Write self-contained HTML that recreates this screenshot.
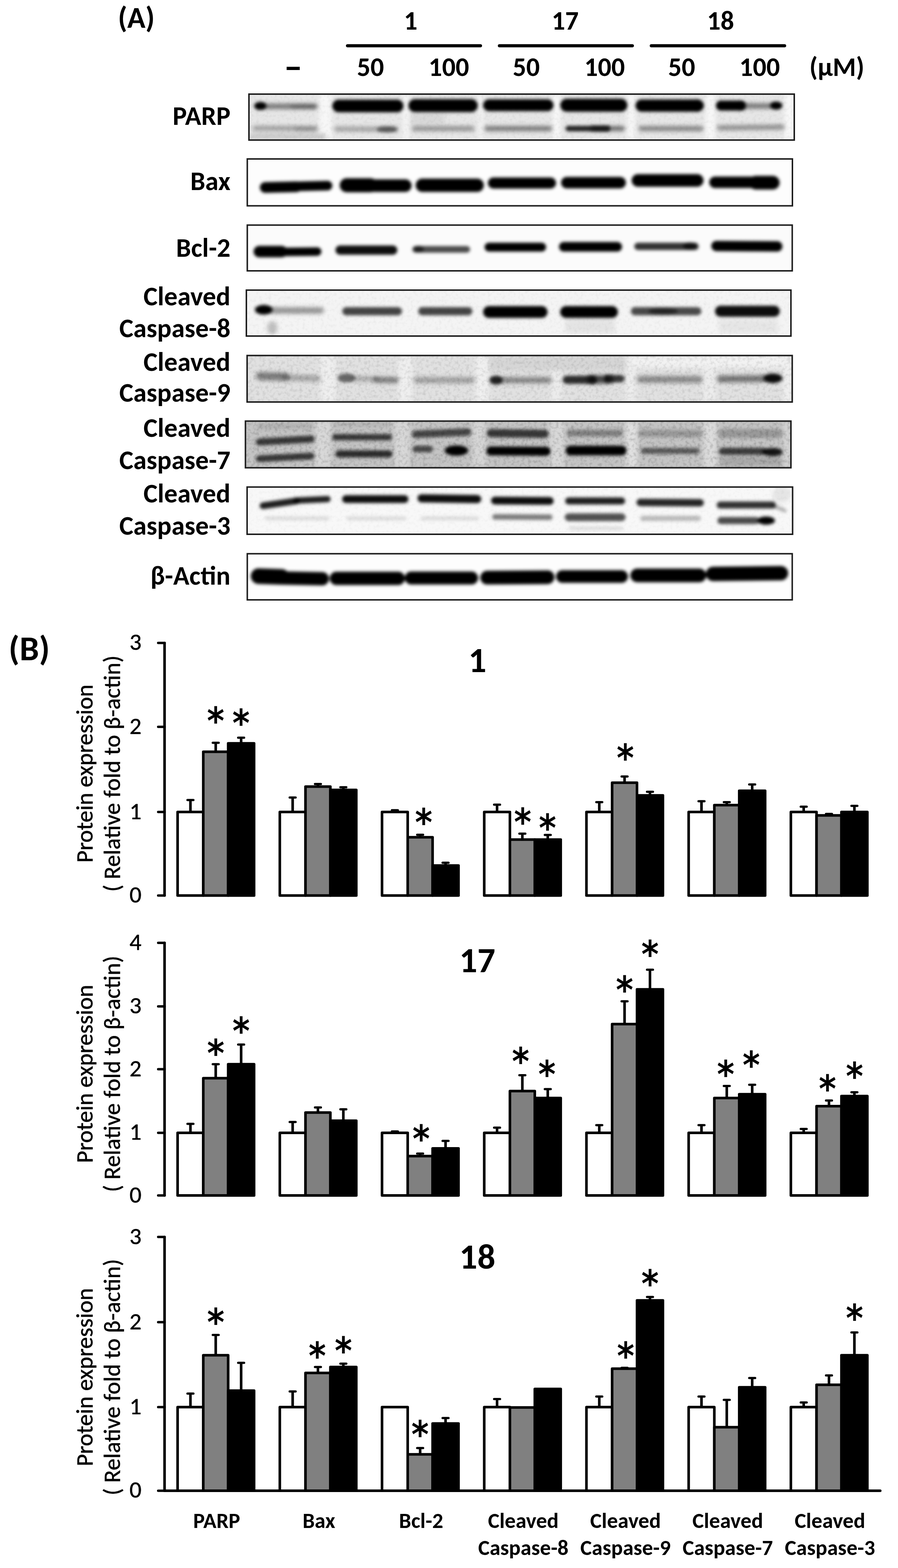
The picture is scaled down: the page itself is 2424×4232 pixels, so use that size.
<!DOCTYPE html><html><head><meta charset="utf-8"><title>Figure</title><style>
html,body{margin:0;padding:0;background:#fff;}body{width:2424px;height:4232px;overflow:hidden;}
svg{display:block;font-family:Carlito, 'Liberation Sans', sans-serif;}
</style></head><body>
<svg width="2424" height="4232" viewBox="0 0 2424 4232">
<rect width="100%" height="100%" fill="#fff"/>
<text textLength="99.6" lengthAdjust="spacingAndGlyphs" x="368" y="75" font-size="81" font-weight="bold" text-anchor="middle" >(A)</text>
<text textLength="36.5" lengthAdjust="spacingAndGlyphs" x="1108.5" y="80" font-size="72" font-weight="bold" text-anchor="middle" >1</text>
<text textLength="73.0" lengthAdjust="spacingAndGlyphs" x="1525.4" y="80" font-size="72" font-weight="bold" text-anchor="middle" >17</text>
<text textLength="73.0" lengthAdjust="spacingAndGlyphs" x="1945" y="80" font-size="72" font-weight="bold" text-anchor="middle" >18</text>
<line x1="938" y1="123.6" x2="1297" y2="123.6" stroke="#000" stroke-width="8.5" stroke-linecap="round"/>
<line x1="1348" y1="123.6" x2="1707" y2="123.6" stroke="#000" stroke-width="8.5" stroke-linecap="round"/>
<line x1="1758" y1="123.6" x2="2118" y2="123.6" stroke="#000" stroke-width="8.5" stroke-linecap="round"/>
<text textLength="49.8" lengthAdjust="spacingAndGlyphs" x="791.5" y="213" font-size="100" font-weight="bold" text-anchor="middle" >–</text>
<text textLength="73.0" lengthAdjust="spacingAndGlyphs" x="1000" y="205" font-size="72" font-weight="bold" text-anchor="middle" >50</text>
<text textLength="109.5" lengthAdjust="spacingAndGlyphs" x="1211.5" y="205" font-size="72" font-weight="bold" text-anchor="middle" >100</text>
<text textLength="73.0" lengthAdjust="spacingAndGlyphs" x="1420.5" y="205" font-size="72" font-weight="bold" text-anchor="middle" >50</text>
<text textLength="109.5" lengthAdjust="spacingAndGlyphs" x="1632" y="205" font-size="72" font-weight="bold" text-anchor="middle" >100</text>
<text textLength="73.0" lengthAdjust="spacingAndGlyphs" x="1840" y="205" font-size="72" font-weight="bold" text-anchor="middle" >50</text>
<text textLength="109.5" lengthAdjust="spacingAndGlyphs" x="2050.5" y="205" font-size="72" font-weight="bold" text-anchor="middle" >100</text>
<text textLength="148.4" lengthAdjust="spacingAndGlyphs" x="2259" y="205" font-size="72" font-weight="bold" text-anchor="middle" >(μM)</text>
<text textLength="155.9" lengthAdjust="spacingAndGlyphs" x="622" y="337" font-size="72" font-weight="bold" text-anchor="end" >PARP</text>
<text textLength="108.3" lengthAdjust="spacingAndGlyphs" x="622" y="513" font-size="72" font-weight="bold" text-anchor="end" >Bax</text>
<text textLength="146.7" lengthAdjust="spacingAndGlyphs" x="622" y="693" font-size="72" font-weight="bold" text-anchor="end" >Bcl-2</text>
<text textLength="234.8" lengthAdjust="spacingAndGlyphs" x="622" y="824" font-size="72" font-weight="bold" text-anchor="end" >Cleaved</text>
<text textLength="300.1" lengthAdjust="spacingAndGlyphs" x="622" y="909.6" font-size="72" font-weight="bold" text-anchor="end" >Caspase-8</text>
<text textLength="234.8" lengthAdjust="spacingAndGlyphs" x="622" y="1001" font-size="72" font-weight="bold" text-anchor="end" >Cleaved</text>
<text textLength="300.1" lengthAdjust="spacingAndGlyphs" x="622" y="1084" font-size="72" font-weight="bold" text-anchor="end" >Caspase-9</text>
<text textLength="234.8" lengthAdjust="spacingAndGlyphs" x="622" y="1178.7" font-size="72" font-weight="bold" text-anchor="end" >Cleaved</text>
<text textLength="300.1" lengthAdjust="spacingAndGlyphs" x="622" y="1265.5" font-size="72" font-weight="bold" text-anchor="end" >Caspase-7</text>
<text textLength="234.8" lengthAdjust="spacingAndGlyphs" x="622" y="1356" font-size="72" font-weight="bold" text-anchor="end" >Cleaved</text>
<text textLength="300.1" lengthAdjust="spacingAndGlyphs" x="622" y="1443" font-size="72" font-weight="bold" text-anchor="end" >Caspase-3</text>
<text textLength="215.9" lengthAdjust="spacingAndGlyphs" x="622" y="1578" font-size="72" font-weight="bold" text-anchor="end" >β-Actin</text>
<defs>
<filter id="bl" filterUnits="userSpaceOnUse" x="600" y="200" width="1600" height="1480"><feGaussianBlur stdDeviation="4.2"/></filter>
<filter id="bl3" filterUnits="userSpaceOnUse" x="600" y="200" width="1600" height="1480"><feGaussianBlur stdDeviation="6"/></filter>
<filter id="bl2" filterUnits="userSpaceOnUse" x="600" y="200" width="1600" height="1480"><feGaussianBlur stdDeviation="6"/></filter>
<filter id="nz" filterUnits="userSpaceOnUse" x="600" y="200" width="1600" height="1480"><feTurbulence type="fractalNoise" baseFrequency="0.12" numOctaves="2" seed="7"/><feColorMatrix type="matrix" values="0 0 0 0 0  0 0 0 0 0  0 0 0 0 0  0 0 0 -1.6 0.9"/><feComponentTransfer><feFuncA type="linear" slope="1" intercept="0"/></feComponentTransfer></filter>
<clipPath id="cpPARP"><rect x="672" y="254" width="1472" height="124"/></clipPath>
<clipPath id="cpBax"><rect x="667.5" y="429" width="1471.5" height="126.5"/></clipPath>
<clipPath id="cpBcl2"><rect x="667.5" y="607.5" width="1471.0" height="123.5"/></clipPath>
<clipPath id="cpC8"><rect x="665" y="783" width="1470" height="124"/></clipPath>
<clipPath id="cpC9"><rect x="667" y="959.5" width="1471.5" height="125.5"/></clipPath>
<clipPath id="cpC7"><rect x="662.5" y="1136.5" width="1472.5" height="126.0"/></clipPath>
<clipPath id="cpC3"><rect x="667" y="1314.5" width="1472.5" height="127.5"/></clipPath>
<clipPath id="cpAct"><rect x="667.5" y="1494.5" width="1471.0" height="124.5"/></clipPath>
</defs>
<g clip-path="url(#cpPARP)">
<rect x="670" y="252" width="1476" height="128" fill="#ececec"/>
<g filter="url(#bl2)">
<rect x="674" y="256" width="1468" height="120" fill="#e6e6e6"/>
<rect x="862" y="256" width="33" height="120" fill="#f7f7f7"/>
<rect x="1088" y="256" width="15" height="120" fill="#f5f5f5"/>
<rect x="1292" y="256" width="12" height="120" fill="#f3f3f3"/>
<rect x="1493" y="256" width="19" height="120" fill="#f8f8f8"/>
<rect x="1693" y="256" width="21" height="120" fill="#f6f6f6"/>
<rect x="1905" y="256" width="25" height="120" fill="#f8f8f8"/>
<rect x="2118" y="256" width="24" height="120" fill="#f8f8f8"/>
<rect x="674" y="360" width="206" height="16" fill="#c8c8c8"/>
<rect x="1110" y="305" width="90" height="30" fill="#d8d8d8"/>
</g>
<rect x="670" y="252" width="1476" height="128" fill="#000" filter="url(#nz)" opacity="0.06"/>
<g filter="url(#bl3)">
<line x1="720" y1="287" x2="850" y2="287" stroke="#000" stroke-width="14" stroke-linecap="round" stroke-opacity="0.5"/>
<line x1="790" y1="288" x2="850" y2="288" stroke="#000" stroke-width="12" stroke-linecap="round" stroke-opacity="0.25"/>
<line x1="688" y1="346" x2="852" y2="347" stroke="#000" stroke-width="13" stroke-linecap="round" stroke-opacity="0.32"/>
<line x1="800" y1="348" x2="850" y2="348" stroke="#000" stroke-width="10" stroke-linecap="round" stroke-opacity="0.2"/>
<line x1="908" y1="348" x2="1068" y2="349" stroke="#000" stroke-width="13" stroke-linecap="round" stroke-opacity="0.3"/>
<line x1="1118" y1="347" x2="1274" y2="347" stroke="#000" stroke-width="13" stroke-linecap="round" stroke-opacity="0.38"/>
<line x1="1314" y1="347" x2="1484" y2="347" stroke="#000" stroke-width="13" stroke-linecap="round" stroke-opacity="0.5"/>
<line x1="1600" y1="347" x2="1680" y2="347" stroke="#000" stroke-width="13" stroke-linecap="round" stroke-opacity="0.55"/>
<line x1="1730" y1="347" x2="1892" y2="347" stroke="#000" stroke-width="13" stroke-linecap="round" stroke-opacity="0.45"/>
<line x1="2000" y1="286" x2="2078" y2="286" stroke="#000" stroke-width="14" stroke-linecap="round" stroke-opacity="0.5"/>
<line x1="1942" y1="345" x2="2112" y2="343" stroke="#000" stroke-width="13" stroke-linecap="round" stroke-opacity="0.4"/>
</g>
<g filter="url(#bl)">
<ellipse cx="703" cy="286" rx="17" ry="11" fill="#000" fill-opacity="1.0"/>
<line x1="914" y1="286" x2="1072" y2="286" stroke="#000" stroke-width="34" stroke-linecap="round" stroke-opacity="1.0"/>
<ellipse cx="1045" cy="349" rx="28" ry="8" fill="#000" fill-opacity="0.5"/>
<line x1="1120" y1="285" x2="1272" y2="285" stroke="#000" stroke-width="35" stroke-linecap="round" stroke-opacity="1.0"/>
<line x1="1320" y1="284" x2="1478" y2="284" stroke="#000" stroke-width="32" stroke-linecap="round" stroke-opacity="1.0"/>
<line x1="1530" y1="284" x2="1676" y2="284" stroke="#000" stroke-width="35" stroke-linecap="round" stroke-opacity="1.0"/>
<line x1="1534" y1="347" x2="1640" y2="347" stroke="#000" stroke-width="15" stroke-linecap="round" stroke-opacity="0.85"/>
<line x1="1732" y1="285" x2="1870" y2="285" stroke="#000" stroke-width="33" stroke-linecap="round" stroke-opacity="1.0"/>
<ellipse cx="1880" cy="285" rx="20" ry="17" fill="#000" fill-opacity="1.0"/>
<line x1="1946" y1="285" x2="2000" y2="285" stroke="#000" stroke-width="27" stroke-linecap="round" stroke-opacity="1.0"/>
<ellipse cx="2095" cy="285" rx="17" ry="11" fill="#000" fill-opacity="1.0"/>
</g>
</g>
<rect x="672" y="254" width="1472" height="124" fill="none" stroke="#1c1c1c" stroke-width="4"/>
<g clip-path="url(#cpBax)">
<rect x="665.5" y="427" width="1475.5" height="130.5" fill="#fdfdfd"/>
<g filter="url(#bl)">
<line x1="716" y1="506" x2="800" y2="504" stroke="#000" stroke-width="29" stroke-linecap="round" stroke-opacity="1.0"/>
<line x1="800" y1="503" x2="884" y2="501" stroke="#000" stroke-width="26" stroke-linecap="round" stroke-opacity="1.0"/>
<line x1="936" y1="500" x2="1000" y2="500" stroke="#000" stroke-width="38" stroke-linecap="round" stroke-opacity="1.0"/>
<line x1="1000" y1="501" x2="1094" y2="501" stroke="#000" stroke-width="34" stroke-linecap="round" stroke-opacity="1.0"/>
<line x1="1140" y1="500" x2="1288" y2="500" stroke="#000" stroke-width="36" stroke-linecap="round" stroke-opacity="1.0"/>
<line x1="1332" y1="494" x2="1486" y2="494" stroke="#000" stroke-width="30" stroke-linecap="round" stroke-opacity="1.0"/>
<line x1="1530" y1="493" x2="1674" y2="493" stroke="#000" stroke-width="31" stroke-linecap="round" stroke-opacity="1.0"/>
<line x1="1722" y1="487" x2="1882" y2="487" stroke="#000" stroke-width="34" stroke-linecap="round" stroke-opacity="1.0"/>
<line x1="1930" y1="492" x2="2040" y2="492" stroke="#000" stroke-width="31" stroke-linecap="round" stroke-opacity="1.0"/>
<line x1="2040" y1="493" x2="2086" y2="493" stroke="#000" stroke-width="37" stroke-linecap="round" stroke-opacity="1.0"/>
</g>
</g>
<rect x="667.5" y="429" width="1471.5" height="126.5" fill="none" stroke="#1c1c1c" stroke-width="4"/>
<g clip-path="url(#cpBcl2)">
<rect x="665.5" y="605.5" width="1475.0" height="127.5" fill="#fbfbfb"/>
<g filter="url(#bl)">
<line x1="700" y1="679" x2="760" y2="679" stroke="#000" stroke-width="31" stroke-linecap="round" stroke-opacity="1.0"/>
<line x1="760" y1="680" x2="856" y2="679" stroke="#000" stroke-width="23" stroke-linecap="round" stroke-opacity="1.0"/>
<line x1="918" y1="675" x2="1060" y2="675" stroke="#000" stroke-width="25" stroke-linecap="round" stroke-opacity="0.95"/>
<line x1="1122" y1="673" x2="1260" y2="673" stroke="#000" stroke-width="18" stroke-linecap="round" stroke-opacity="0.7"/>
<ellipse cx="1130" cy="672" rx="14" ry="9" fill="#000" fill-opacity="0.6"/>
<line x1="1320" y1="667" x2="1462" y2="667" stroke="#000" stroke-width="24" stroke-linecap="round" stroke-opacity="1.0"/>
<line x1="1522" y1="666" x2="1666" y2="666" stroke="#000" stroke-width="26" stroke-linecap="round" stroke-opacity="1.0"/>
<line x1="1722" y1="665" x2="1876" y2="665" stroke="#000" stroke-width="20" stroke-linecap="round" stroke-opacity="0.8"/>
<ellipse cx="1862" cy="664" rx="18" ry="10" fill="#000" fill-opacity="0.7"/>
<line x1="1934" y1="664" x2="2098" y2="665" stroke="#000" stroke-width="28" stroke-linecap="round" stroke-opacity="1.0"/>
</g>
</g>
<rect x="667.5" y="607.5" width="1471.0" height="123.5" fill="none" stroke="#1c1c1c" stroke-width="4"/>
<g clip-path="url(#cpC8)">
<rect x="663" y="781" width="1474" height="128" fill="#f4f4f4"/>
<g filter="url(#bl2)">
<rect x="1525" y="862" width="135" height="38" fill="#e4e4e4"/>
<rect x="1940" y="862" width="160" height="38" fill="#e6e6e6"/>
</g>
<rect x="663" y="781" width="1474" height="128" fill="#000" filter="url(#nz)" opacity="0.05"/>
<g filter="url(#bl3)">
<line x1="735" y1="838" x2="866" y2="838" stroke="#000" stroke-width="17" stroke-linecap="round" stroke-opacity="0.4"/>
<ellipse cx="735" cy="885" rx="14" ry="18" fill="#000" fill-opacity="0.22"/>
</g>
<g filter="url(#bl)">
<ellipse cx="712" cy="836" rx="24" ry="13" fill="#000" fill-opacity="1.0"/>
<line x1="935" y1="840" x2="1074" y2="840" stroke="#000" stroke-width="22" stroke-linecap="round" stroke-opacity="0.72"/>
<line x1="1140" y1="840" x2="1264" y2="840" stroke="#000" stroke-width="22" stroke-linecap="round" stroke-opacity="0.72"/>
<line x1="1320" y1="842" x2="1462" y2="842" stroke="#000" stroke-width="32" stroke-linecap="round" stroke-opacity="1.0"/>
<line x1="1528" y1="842" x2="1652" y2="842" stroke="#000" stroke-width="32" stroke-linecap="round" stroke-opacity="1.0"/>
<line x1="1714" y1="840" x2="1882" y2="840" stroke="#000" stroke-width="22" stroke-linecap="round" stroke-opacity="0.7"/>
<ellipse cx="1790" cy="840" rx="40" ry="9" fill="#000" fill-opacity="0.5"/>
<line x1="1945" y1="840" x2="2090" y2="840" stroke="#000" stroke-width="30" stroke-linecap="round" stroke-opacity="0.95"/>
</g>
</g>
<rect x="665" y="783" width="1470" height="124" fill="none" stroke="#1c1c1c" stroke-width="4"/>
<g clip-path="url(#cpC9)">
<rect x="665" y="957.5" width="1475.5" height="129.5" fill="#dedede"/>
<g filter="url(#bl2)">
<rect x="669" y="961" width="1468" height="122" fill="#e1e1e1"/>
<rect x="866" y="961" width="39" height="122" fill="#efefef"/>
<rect x="1076" y="961" width="36" height="122" fill="#efefef"/>
<rect x="1285" y="961" width="33" height="122" fill="#f0f0f0"/>
<rect x="1488" y="961" width="28" height="122" fill="#ececec"/>
<rect x="1690" y="961" width="26" height="122" fill="#ededed"/>
<rect x="1898" y="961" width="34" height="122" fill="#ececec"/>
<rect x="1700" y="961" width="437" height="31" fill="#f2f2f2"/>
<rect x="2115" y="961" width="22" height="122" fill="#f0f0f0"/>
<rect x="1320" y="961" width="370" height="39" fill="#d6d6d6"/>
</g>
<rect x="665" y="957.5" width="1475.5" height="129.5" fill="#000" filter="url(#nz)" opacity="0.14"/>
<g filter="url(#bl3)">
<line x1="702" y1="1015" x2="770" y2="1017" stroke="#000" stroke-width="22" stroke-linecap="round" stroke-opacity="0.45"/>
<line x1="770" y1="1019" x2="858" y2="1022" stroke="#000" stroke-width="16" stroke-linecap="round" stroke-opacity="0.28"/>
<line x1="955" y1="1022" x2="1015" y2="1023" stroke="#000" stroke-width="14" stroke-linecap="round" stroke-opacity="0.25"/>
<line x1="1015" y1="1025" x2="1068" y2="1026" stroke="#000" stroke-width="16" stroke-linecap="round" stroke-opacity="0.45"/>
<line x1="1124" y1="1026" x2="1274" y2="1026" stroke="#000" stroke-width="16" stroke-linecap="round" stroke-opacity="0.3"/>
<line x1="1355" y1="1026" x2="1482" y2="1026" stroke="#000" stroke-width="16" stroke-linecap="round" stroke-opacity="0.42"/>
<line x1="1596" y1="1024" x2="1644" y2="1024" stroke="#000" stroke-width="22" stroke-linecap="round" stroke-opacity="0.7"/>
<line x1="1728" y1="1024" x2="1888" y2="1024" stroke="#000" stroke-width="18" stroke-linecap="round" stroke-opacity="0.4"/>
<line x1="1944" y1="1023" x2="2060" y2="1022" stroke="#000" stroke-width="18" stroke-linecap="round" stroke-opacity="0.5"/>
</g>
<g filter="url(#bl)">
<ellipse cx="935" cy="1020" rx="24" ry="12" fill="#000" fill-opacity="0.55"/>
<ellipse cx="1339" cy="1026" rx="18" ry="12" fill="#000" fill-opacity="0.85"/>
<line x1="1530" y1="1025" x2="1600" y2="1025" stroke="#000" stroke-width="22" stroke-linecap="round" stroke-opacity="0.8"/>
<line x1="1640" y1="1022" x2="1676" y2="1022" stroke="#000" stroke-width="20" stroke-linecap="round" stroke-opacity="0.75"/>
<ellipse cx="2086" cy="1021" rx="26" ry="13" fill="#000" fill-opacity="0.95"/>
</g>
</g>
<rect x="667" y="959.5" width="1471.5" height="125.5" fill="none" stroke="#1c1c1c" stroke-width="4"/>
<g clip-path="url(#cpC7)">
<rect x="660.5" y="1134.5" width="1476.5" height="130.0" fill="#c2c2c2"/>
<g filter="url(#bl2)">
<rect x="664" y="1138" width="1469" height="123" fill="#c4c4c4"/>
<rect x="852" y="1138" width="40" height="123" fill="#d8d8d8"/>
<rect x="1066" y="1138" width="39" height="123" fill="#d8d8d8"/>
<rect x="1276" y="1138" width="34" height="123" fill="#d6d6d6"/>
<rect x="1484" y="1138" width="38" height="123" fill="#d8d8d8"/>
<rect x="1690" y="1138" width="30" height="123" fill="#e0e0e0"/>
<rect x="1900" y="1138" width="34" height="123" fill="#dcdcdc"/>
<rect x="2115" y="1138" width="18" height="123" fill="#d4d4d4"/>
<rect x="1945" y="1232" width="165" height="26" fill="#a8a8a8"/>
</g>
<rect x="660.5" y="1134.5" width="1476.5" height="130.0" fill="#000" filter="url(#nz)" opacity="0.22"/>
<g filter="url(#bl3)">
<line x1="700" y1="1151" x2="840" y2="1149" stroke="#000" stroke-width="12" stroke-linecap="round" stroke-opacity="0.12"/>
<line x1="905" y1="1145" x2="1050" y2="1145" stroke="#000" stroke-width="10" stroke-linecap="round" stroke-opacity="0.1"/>
</g>
<g filter="url(#bl)">
<line x1="700" y1="1193" x2="840" y2="1185" stroke="#000" stroke-width="19" stroke-linecap="round" stroke-opacity="0.72"/>
<line x1="700" y1="1238" x2="840" y2="1231" stroke="#000" stroke-width="18" stroke-linecap="round" stroke-opacity="0.72"/>
<line x1="905" y1="1180" x2="1050" y2="1180" stroke="#000" stroke-width="17" stroke-linecap="round" stroke-opacity="0.72"/>
<line x1="915" y1="1225" x2="1050" y2="1225" stroke="#000" stroke-width="19" stroke-linecap="round" stroke-opacity="0.78"/>
<line x1="1122" y1="1172" x2="1262" y2="1166" stroke="#000" stroke-width="20" stroke-linecap="round" stroke-opacity="0.65"/>
<line x1="1122" y1="1212" x2="1160" y2="1212" stroke="#000" stroke-width="17" stroke-linecap="round" stroke-opacity="0.65"/>
<ellipse cx="1232" cy="1216" rx="32" ry="14" fill="#000" fill-opacity="1.0"/>
<line x1="1325" y1="1169" x2="1470" y2="1171" stroke="#000" stroke-width="22" stroke-linecap="round" stroke-opacity="0.72"/>
<line x1="1325" y1="1217" x2="1474" y2="1218" stroke="#000" stroke-width="24" stroke-linecap="round" stroke-opacity="1.0"/>
<line x1="1538" y1="1169" x2="1672" y2="1169" stroke="#000" stroke-width="18" stroke-linecap="round" stroke-opacity="0.35"/>
<line x1="1540" y1="1216" x2="1678" y2="1216" stroke="#000" stroke-width="26" stroke-linecap="round" stroke-opacity="1.0"/>
<line x1="1732" y1="1170" x2="1888" y2="1170" stroke="#000" stroke-width="20" stroke-linecap="round" stroke-opacity="0.22"/>
<line x1="1738" y1="1217" x2="1880" y2="1217" stroke="#000" stroke-width="16" stroke-linecap="round" stroke-opacity="0.55"/>
<line x1="1950" y1="1170" x2="2102" y2="1170" stroke="#000" stroke-width="24" stroke-linecap="round" stroke-opacity="0.22"/>
<line x1="1950" y1="1218" x2="2060" y2="1218" stroke="#000" stroke-width="19" stroke-linecap="round" stroke-opacity="0.7"/>
<ellipse cx="2085" cy="1220" rx="28" ry="11" fill="#000" fill-opacity="0.9"/>
</g>
</g>
<rect x="662.5" y="1136.5" width="1472.5" height="126.0" fill="none" stroke="#1c1c1c" stroke-width="4"/>
<g clip-path="url(#cpC3)">
<rect x="665" y="1312.5" width="1476.5" height="131.5" fill="#f8f8f8"/>
<rect x="665" y="1312.5" width="1476.5" height="131.5" fill="#000" filter="url(#nz)" opacity="0.04"/>
<g filter="url(#bl3)">
<ellipse cx="2110" cy="1335" rx="25" ry="22" fill="#000" fill-opacity="0.08"/>
</g>
<g filter="url(#bl)">
<line x1="710" y1="1365" x2="800" y2="1352" stroke="#000" stroke-width="18" stroke-linecap="round" stroke-opacity="0.88"/>
<line x1="800" y1="1351" x2="884" y2="1347" stroke="#000" stroke-width="17" stroke-linecap="round" stroke-opacity="0.88"/>
<line x1="720" y1="1399" x2="884" y2="1399" stroke="#000" stroke-width="10" stroke-linecap="round" stroke-opacity="0.12"/>
<line x1="934" y1="1347" x2="1092" y2="1347" stroke="#000" stroke-width="21" stroke-linecap="round" stroke-opacity="0.95"/>
<line x1="940" y1="1399" x2="1092" y2="1399" stroke="#000" stroke-width="10" stroke-linecap="round" stroke-opacity="0.12"/>
<line x1="1138" y1="1345" x2="1288" y2="1347" stroke="#000" stroke-width="22" stroke-linecap="round" stroke-opacity="0.95"/>
<line x1="1140" y1="1399" x2="1288" y2="1399" stroke="#000" stroke-width="10" stroke-linecap="round" stroke-opacity="0.12"/>
<line x1="1336" y1="1351" x2="1484" y2="1352" stroke="#000" stroke-width="21" stroke-linecap="round" stroke-opacity="0.95"/>
<line x1="1336" y1="1395" x2="1484" y2="1396" stroke="#000" stroke-width="15" stroke-linecap="round" stroke-opacity="0.5"/>
<line x1="1535" y1="1352" x2="1678" y2="1352" stroke="#000" stroke-width="19" stroke-linecap="round" stroke-opacity="0.88"/>
<line x1="1535" y1="1396" x2="1678" y2="1396" stroke="#000" stroke-width="21" stroke-linecap="round" stroke-opacity="0.68"/>
<line x1="1540" y1="1426" x2="1678" y2="1426" stroke="#000" stroke-width="9" stroke-linecap="round" stroke-opacity="0.12"/>
<line x1="1728" y1="1356" x2="1890" y2="1357" stroke="#000" stroke-width="20" stroke-linecap="round" stroke-opacity="0.85"/>
<line x1="1735" y1="1399" x2="1885" y2="1399" stroke="#000" stroke-width="14" stroke-linecap="round" stroke-opacity="0.25"/>
<line x1="1944" y1="1363" x2="2085" y2="1363" stroke="#000" stroke-width="19" stroke-linecap="round" stroke-opacity="0.8"/>
<line x1="2085" y1="1364" x2="2118" y2="1378" stroke="#000" stroke-width="10" stroke-linecap="round" stroke-opacity="0.3"/>
<line x1="1946" y1="1405" x2="2040" y2="1405" stroke="#000" stroke-width="19" stroke-linecap="round" stroke-opacity="0.7"/>
<ellipse cx="2068" cy="1405" rx="24" ry="11" fill="#000" fill-opacity="1.0"/>
</g>
</g>
<rect x="667" y="1314.5" width="1472.5" height="127.5" fill="none" stroke="#1c1c1c" stroke-width="4"/>
<g clip-path="url(#cpAct)">
<rect x="665.5" y="1492.5" width="1475.0" height="128.5" fill="#fdfdfd"/>
<g filter="url(#bl)">
<line x1="698" y1="1555" x2="760" y2="1557" stroke="#000" stroke-width="42" stroke-linecap="round" stroke-opacity="1.0"/>
<line x1="760" y1="1560" x2="870" y2="1562" stroke="#000" stroke-width="36" stroke-linecap="round" stroke-opacity="1.0"/>
<line x1="908" y1="1561" x2="1075" y2="1561" stroke="#000" stroke-width="36" stroke-linecap="round" stroke-opacity="1.0"/>
<line x1="1110" y1="1560" x2="1273" y2="1560" stroke="#000" stroke-width="35" stroke-linecap="round" stroke-opacity="1.0"/>
<line x1="1315" y1="1559" x2="1478" y2="1558" stroke="#000" stroke-width="37" stroke-linecap="round" stroke-opacity="1.0"/>
<line x1="1518" y1="1556" x2="1678" y2="1556" stroke="#000" stroke-width="34" stroke-linecap="round" stroke-opacity="1.0"/>
<line x1="1720" y1="1553" x2="1888" y2="1553" stroke="#000" stroke-width="37" stroke-linecap="round" stroke-opacity="1.0"/>
<line x1="1925" y1="1549" x2="2108" y2="1547" stroke="#000" stroke-width="39" stroke-linecap="round" stroke-opacity="1.0"/>
</g>
</g>
<rect x="667.5" y="1494.5" width="1471.0" height="124.5" fill="none" stroke="#1c1c1c" stroke-width="4"/>
<text textLength="111.3" lengthAdjust="spacingAndGlyphs" x="79" y="1782" font-size="94" font-weight="bold" text-anchor="middle" >(B)</text>
<line x1="444.2" y1="1735.2" x2="444.2" y2="2417.1" stroke="#000" stroke-width="7" stroke-linecap="round"/>
<line x1="427" y1="2417.1" x2="444.2" y2="2417.1" stroke="#000" stroke-width="6.5" stroke-linecap="round"/>
<text textLength="32.4" lengthAdjust="spacingAndGlyphs" x="382" y="2436.1" font-size="64" font-weight="normal" text-anchor="end" stroke="#000" stroke-width="0.7">0</text>
<line x1="427" y1="2191.5" x2="444.2" y2="2191.5" stroke="#000" stroke-width="6.5" stroke-linecap="round"/>
<text textLength="32.4" lengthAdjust="spacingAndGlyphs" x="382" y="2210.5" font-size="64" font-weight="normal" text-anchor="end" stroke="#000" stroke-width="0.7">1</text>
<line x1="427" y1="1961.8" x2="444.2" y2="1961.8" stroke="#000" stroke-width="6.5" stroke-linecap="round"/>
<text textLength="32.4" lengthAdjust="spacingAndGlyphs" x="382" y="1980.8" font-size="64" font-weight="normal" text-anchor="end" stroke="#000" stroke-width="0.7">2</text>
<line x1="427" y1="1735.2" x2="444.2" y2="1735.2" stroke="#000" stroke-width="6.5" stroke-linecap="round"/>
<text textLength="32.4" lengthAdjust="spacingAndGlyphs" x="382" y="1754.2" font-size="64" font-weight="normal" text-anchor="end" stroke="#000" stroke-width="0.7">3</text>
<line x1="514.05" y1="2159.201" x2="514.05" y2="2191.5" stroke="#000" stroke-width="7"/>
<line x1="506.04999999999995" y1="2159.201" x2="522.05" y2="2159.201" stroke="#000" stroke-width="6" stroke-linecap="round"/>
<rect x="479.4" y="2191.5" width="69.29999999999995" height="225.5999999999999" fill="#ffffff" stroke="#000" stroke-width="7" stroke-linejoin="round"/>
<line x1="582.3" y1="2004.7964000000002" x2="582.3" y2="2028.9008000000001" stroke="#000" stroke-width="7"/>
<line x1="574.3" y1="2004.7964000000002" x2="590.3" y2="2004.7964000000002" stroke="#000" stroke-width="6" stroke-linecap="round"/>
<rect x="548.6999999999999" y="2028.9008000000001" width="67.20000000000005" height="388.1991999999998" fill="#808080" stroke="#000" stroke-width="7" stroke-linejoin="round"/>
<line x1="650.9" y1="1990.9250000000002" x2="650.9" y2="2006.1608" stroke="#000" stroke-width="7"/>
<line x1="642.9" y1="1990.9250000000002" x2="658.9" y2="1990.9250000000002" stroke="#000" stroke-width="6" stroke-linecap="round"/>
<rect x="615.9" y="2006.1608" width="70.0" height="410.9391999999998" fill="#000000" stroke="#000" stroke-width="7" stroke-linejoin="round"/>
<line x1="789.9499999999999" y1="2152.3790000000004" x2="789.9499999999999" y2="2191.5" stroke="#000" stroke-width="7"/>
<line x1="781.9499999999999" y1="2152.3790000000004" x2="797.9499999999999" y2="2152.3790000000004" stroke="#000" stroke-width="6" stroke-linecap="round"/>
<rect x="755.3" y="2191.5" width="69.29999999999995" height="225.5999999999999" fill="#ffffff" stroke="#000" stroke-width="7" stroke-linejoin="round"/>
<line x1="858.1999999999999" y1="2115.9950000000003" x2="858.1999999999999" y2="2123.0444" stroke="#000" stroke-width="7"/>
<line x1="850.1999999999999" y1="2115.9950000000003" x2="866.1999999999999" y2="2115.9950000000003" stroke="#000" stroke-width="6" stroke-linecap="round"/>
<rect x="824.5999999999999" y="2123.0444" width="67.20000000000005" height="294.0555999999997" fill="#808080" stroke="#000" stroke-width="7" stroke-linejoin="round"/>
<line x1="926.8" y1="2124.8636" x2="926.8" y2="2131.913" stroke="#000" stroke-width="7"/>
<line x1="918.8" y1="2124.8636" x2="934.8" y2="2124.8636" stroke="#000" stroke-width="6" stroke-linecap="round"/>
<rect x="891.8" y="2131.913" width="70.0" height="285.1869999999999" fill="#000000" stroke="#000" stroke-width="7" stroke-linejoin="round"/>
<line x1="1065.85" y1="2186.7164000000002" x2="1065.85" y2="2191.5" stroke="#000" stroke-width="7"/>
<line x1="1057.85" y1="2186.7164000000002" x2="1073.85" y2="2186.7164000000002" stroke="#000" stroke-width="6" stroke-linecap="round"/>
<rect x="1031.1999999999998" y="2191.5" width="69.29999999999995" height="225.5999999999999" fill="#ffffff" stroke="#000" stroke-width="7" stroke-linejoin="round"/>
<line x1="1134.1" y1="2252.8898000000004" x2="1134.1" y2="2259.7118" stroke="#000" stroke-width="7"/>
<line x1="1126.1" y1="2252.8898000000004" x2="1142.1" y2="2252.8898000000004" stroke="#000" stroke-width="6" stroke-linecap="round"/>
<rect x="1100.4999999999998" y="2259.7118" width="67.20000000000005" height="157.38819999999987" fill="#808080" stroke="#000" stroke-width="7" stroke-linejoin="round"/>
<line x1="1202.6999999999998" y1="2328.614" x2="1202.6999999999998" y2="2335.8908" stroke="#000" stroke-width="7"/>
<line x1="1194.6999999999998" y1="2328.614" x2="1210.6999999999998" y2="2328.614" stroke="#000" stroke-width="6" stroke-linecap="round"/>
<rect x="1167.6999999999998" y="2335.8908" width="70.0" height="81.20919999999978" fill="#000000" stroke="#000" stroke-width="7" stroke-linejoin="round"/>
<line x1="1341.75" y1="2171.708" x2="1341.75" y2="2191.5" stroke="#000" stroke-width="7"/>
<line x1="1333.75" y1="2171.708" x2="1349.75" y2="2171.708" stroke="#000" stroke-width="6" stroke-linecap="round"/>
<rect x="1307.1" y="2191.5" width="69.29999999999995" height="225.5999999999999" fill="#ffffff" stroke="#000" stroke-width="7" stroke-linejoin="round"/>
<line x1="1410.0" y1="2249.9336000000003" x2="1410.0" y2="2266.079" stroke="#000" stroke-width="7"/>
<line x1="1402.0" y1="2249.9336000000003" x2="1418.0" y2="2249.9336000000003" stroke="#000" stroke-width="6" stroke-linecap="round"/>
<rect x="1376.3999999999999" y="2266.079" width="67.20000000000005" height="151.02099999999973" fill="#808080" stroke="#000" stroke-width="7" stroke-linejoin="round"/>
<line x1="1478.6" y1="2253.572" x2="1478.6" y2="2266.079" stroke="#000" stroke-width="7"/>
<line x1="1470.6" y1="2253.572" x2="1486.6" y2="2253.572" stroke="#000" stroke-width="6" stroke-linecap="round"/>
<rect x="1443.6" y="2266.079" width="70.0" height="151.02099999999973" fill="#000000" stroke="#000" stroke-width="7" stroke-linejoin="round"/>
<line x1="1617.65" y1="2164.886" x2="1617.65" y2="2191.5" stroke="#000" stroke-width="7"/>
<line x1="1609.65" y1="2164.886" x2="1625.65" y2="2164.886" stroke="#000" stroke-width="6" stroke-linecap="round"/>
<rect x="1583.0" y="2191.5" width="69.29999999999995" height="225.5999999999999" fill="#ffffff" stroke="#000" stroke-width="7" stroke-linejoin="round"/>
<line x1="1685.9" y1="2095.7564" x2="1685.9" y2="2112.5840000000003" stroke="#000" stroke-width="7"/>
<line x1="1677.9" y1="2095.7564" x2="1693.9" y2="2095.7564" stroke="#000" stroke-width="6" stroke-linecap="round"/>
<rect x="1652.3" y="2112.5840000000003" width="67.20000000000005" height="304.5159999999996" fill="#808080" stroke="#000" stroke-width="7" stroke-linejoin="round"/>
<line x1="1754.5" y1="2136.9158" x2="1754.5" y2="2146.6940000000004" stroke="#000" stroke-width="7"/>
<line x1="1746.5" y1="2136.9158" x2="1762.5" y2="2136.9158" stroke="#000" stroke-width="6" stroke-linecap="round"/>
<rect x="1719.5" y="2146.6940000000004" width="70.0" height="270.4059999999995" fill="#000000" stroke="#000" stroke-width="7" stroke-linejoin="round"/>
<line x1="1893.5500000000002" y1="2162.612" x2="1893.5500000000002" y2="2191.5" stroke="#000" stroke-width="7"/>
<line x1="1885.5500000000002" y1="2162.612" x2="1901.5500000000002" y2="2162.612" stroke="#000" stroke-width="6" stroke-linecap="round"/>
<rect x="1858.9" y="2191.5" width="69.29999999999995" height="225.5999999999999" fill="#ffffff" stroke="#000" stroke-width="7" stroke-linejoin="round"/>
<line x1="1961.8000000000002" y1="2164.886" x2="1961.8000000000002" y2="2173.0724" stroke="#000" stroke-width="7"/>
<line x1="1953.8000000000002" y1="2164.886" x2="1969.8000000000002" y2="2164.886" stroke="#000" stroke-width="6" stroke-linecap="round"/>
<rect x="1928.2" y="2173.0724" width="67.20000000000005" height="244.0275999999999" fill="#808080" stroke="#000" stroke-width="7" stroke-linejoin="round"/>
<line x1="2030.4" y1="2117.132" x2="2030.4" y2="2134.187" stroke="#000" stroke-width="7"/>
<line x1="2022.4" y1="2117.132" x2="2038.4" y2="2117.132" stroke="#000" stroke-width="6" stroke-linecap="round"/>
<rect x="1995.4" y="2134.187" width="70.0" height="282.913" fill="#000000" stroke="#000" stroke-width="7" stroke-linejoin="round"/>
<line x1="2169.45" y1="2177.1656000000003" x2="2169.45" y2="2191.5" stroke="#000" stroke-width="7"/>
<line x1="2161.45" y1="2177.1656000000003" x2="2177.45" y2="2177.1656000000003" stroke="#000" stroke-width="6" stroke-linecap="round"/>
<rect x="2134.7999999999997" y="2191.5" width="69.30000000000018" height="225.5999999999999" fill="#ffffff" stroke="#000" stroke-width="7" stroke-linejoin="round"/>
<line x1="2237.7" y1="2196.722" x2="2237.7" y2="2200.8152" stroke="#000" stroke-width="7"/>
<line x1="2229.7" y1="2196.722" x2="2245.7" y2="2196.722" stroke="#000" stroke-width="6" stroke-linecap="round"/>
<rect x="2204.1" y="2200.8152" width="67.19999999999982" height="216.2847999999999" fill="#808080" stroke="#000" stroke-width="7" stroke-linejoin="round"/>
<line x1="2306.2999999999997" y1="2174.8916" x2="2306.2999999999997" y2="2191.5" stroke="#000" stroke-width="7"/>
<line x1="2298.2999999999997" y1="2174.8916" x2="2314.2999999999997" y2="2174.8916" stroke="#000" stroke-width="6" stroke-linecap="round"/>
<rect x="2271.2999999999997" y="2191.5" width="70.0" height="225.5999999999999" fill="#000000" stroke="#000" stroke-width="7" stroke-linejoin="round"/>
<text textLength="53.3" lengthAdjust="spacingAndGlyphs" transform="translate(582.2,1981.0) scale(0.88,1)" x="0" y="0" font-family="DejaVu Sans" font-size="102" font-weight="bold" text-anchor="middle">*</text>
<text textLength="53.3" lengthAdjust="spacingAndGlyphs" transform="translate(650.6,1986.6) scale(0.88,1)" x="0" y="0" font-family="DejaVu Sans" font-size="102" font-weight="bold" text-anchor="middle">*</text>
<text textLength="53.3" lengthAdjust="spacingAndGlyphs" transform="translate(1143.8,2255.0) scale(0.88,1)" x="0" y="0" font-family="DejaVu Sans" font-size="102" font-weight="bold" text-anchor="middle">*</text>
<text textLength="53.3" lengthAdjust="spacingAndGlyphs" transform="translate(1411,2253.6) scale(0.88,1)" x="0" y="0" font-family="DejaVu Sans" font-size="102" font-weight="bold" text-anchor="middle">*</text>
<text textLength="53.3" lengthAdjust="spacingAndGlyphs" transform="translate(1478,2269.6) scale(0.88,1)" x="0" y="0" font-family="DejaVu Sans" font-size="102" font-weight="bold" text-anchor="middle">*</text>
<text textLength="53.3" lengthAdjust="spacingAndGlyphs" transform="translate(1688,2080.6) scale(0.88,1)" x="0" y="0" font-family="DejaVu Sans" font-size="102" font-weight="bold" text-anchor="middle">*</text>
<text textLength="48.7" lengthAdjust="spacingAndGlyphs" x="1288.5" y="1814" font-size="96" font-weight="bold" text-anchor="middle">1</text>
<text textLength="481.1" lengthAdjust="spacingAndGlyphs" transform="translate(250,2088) rotate(-90)" font-size="64" font-weight="normal" text-anchor="middle" stroke="#000" stroke-width="0.7">Protein expression</text>
<text textLength="638.1" lengthAdjust="spacingAndGlyphs" transform="translate(324,2088) rotate(-90)" font-size="64" font-weight="normal" text-anchor="middle" stroke="#000" stroke-width="0.7">( Relative fold to β-actin)</text>
<line x1="444.2" y1="2544.8" x2="444.2" y2="3226.5" stroke="#000" stroke-width="7" stroke-linecap="round"/>
<line x1="427" y1="3226.5" x2="444.2" y2="3226.5" stroke="#000" stroke-width="6.5" stroke-linecap="round"/>
<text textLength="32.4" lengthAdjust="spacingAndGlyphs" x="382" y="3245.5" font-size="64" font-weight="normal" text-anchor="end" stroke="#000" stroke-width="0.7">0</text>
<line x1="427" y1="3057.4" x2="444.2" y2="3057.4" stroke="#000" stroke-width="6.5" stroke-linecap="round"/>
<text textLength="32.4" lengthAdjust="spacingAndGlyphs" x="382" y="3076.4" font-size="64" font-weight="normal" text-anchor="end" stroke="#000" stroke-width="0.7">1</text>
<line x1="427" y1="2885.7" x2="444.2" y2="2885.7" stroke="#000" stroke-width="6.5" stroke-linecap="round"/>
<text textLength="32.4" lengthAdjust="spacingAndGlyphs" x="382" y="2904.7" font-size="64" font-weight="normal" text-anchor="end" stroke="#000" stroke-width="0.7">2</text>
<line x1="427" y1="2716.3" x2="444.2" y2="2716.3" stroke="#000" stroke-width="6.5" stroke-linecap="round"/>
<text textLength="32.4" lengthAdjust="spacingAndGlyphs" x="382" y="2735.3" font-size="64" font-weight="normal" text-anchor="end" stroke="#000" stroke-width="0.7">3</text>
<line x1="427" y1="2544.8" x2="444.2" y2="2544.8" stroke="#000" stroke-width="6.5" stroke-linecap="round"/>
<text textLength="32.4" lengthAdjust="spacingAndGlyphs" x="382" y="2563.8" font-size="64" font-weight="normal" text-anchor="end" stroke="#000" stroke-width="0.7">4</text>
<line x1="514.05" y1="3033.335" x2="514.05" y2="3057.4" stroke="#000" stroke-width="7"/>
<line x1="506.04999999999995" y1="3033.335" x2="522.05" y2="3033.335" stroke="#000" stroke-width="6" stroke-linecap="round"/>
<rect x="479.4" y="3057.4" width="69.29999999999995" height="169.0999999999999" fill="#ffffff" stroke="#000" stroke-width="7" stroke-linejoin="round"/>
<line x1="582.3" y1="2872.2125" x2="582.3" y2="2910.0635" stroke="#000" stroke-width="7"/>
<line x1="574.3" y1="2872.2125" x2="590.3" y2="2872.2125" stroke="#000" stroke-width="6" stroke-linecap="round"/>
<rect x="548.6999999999999" y="2910.0635" width="67.20000000000005" height="316.4364999999998" fill="#808080" stroke="#000" stroke-width="7" stroke-linejoin="round"/>
<line x1="650.9" y1="2819.187" x2="650.9" y2="2872.2125" stroke="#000" stroke-width="7"/>
<line x1="642.9" y1="2819.187" x2="658.9" y2="2819.187" stroke="#000" stroke-width="6" stroke-linecap="round"/>
<rect x="615.9" y="2872.2125" width="70.0" height="354.2874999999999" fill="#000000" stroke="#000" stroke-width="7" stroke-linejoin="round"/>
<line x1="789.9499999999999" y1="3028.2200000000003" x2="789.9499999999999" y2="3057.4" stroke="#000" stroke-width="7"/>
<line x1="781.9499999999999" y1="3028.2200000000003" x2="797.9499999999999" y2="3028.2200000000003" stroke="#000" stroke-width="6" stroke-linecap="round"/>
<rect x="755.3" y="3057.4" width="69.29999999999995" height="169.0999999999999" fill="#ffffff" stroke="#000" stroke-width="7" stroke-linejoin="round"/>
<line x1="858.1999999999999" y1="2989.005" x2="858.1999999999999" y2="3002.645" stroke="#000" stroke-width="7"/>
<line x1="850.1999999999999" y1="2989.005" x2="866.1999999999999" y2="2989.005" stroke="#000" stroke-width="6" stroke-linecap="round"/>
<rect x="824.5999999999999" y="3002.645" width="67.20000000000005" height="223.85500000000002" fill="#808080" stroke="#000" stroke-width="7" stroke-linejoin="round"/>
<line x1="926.8" y1="2994.12" x2="926.8" y2="3024.81" stroke="#000" stroke-width="7"/>
<line x1="918.8" y1="2994.12" x2="934.8" y2="2994.12" stroke="#000" stroke-width="6" stroke-linecap="round"/>
<rect x="891.8" y="3024.81" width="70.0" height="201.69000000000005" fill="#000000" stroke="#000" stroke-width="7" stroke-linejoin="round"/>
<line x1="1065.85" y1="3053.795" x2="1065.85" y2="3057.4" stroke="#000" stroke-width="7"/>
<line x1="1057.85" y1="3053.795" x2="1073.85" y2="3053.795" stroke="#000" stroke-width="6" stroke-linecap="round"/>
<rect x="1031.1999999999998" y="3057.4" width="69.29999999999995" height="169.0999999999999" fill="#ffffff" stroke="#000" stroke-width="7" stroke-linejoin="round"/>
<line x1="1134.1" y1="3113.47" x2="1134.1" y2="3120.29" stroke="#000" stroke-width="7"/>
<line x1="1126.1" y1="3113.47" x2="1142.1" y2="3113.47" stroke="#000" stroke-width="6" stroke-linecap="round"/>
<rect x="1100.4999999999998" y="3120.29" width="67.20000000000005" height="106.21000000000004" fill="#808080" stroke="#000" stroke-width="7" stroke-linejoin="round"/>
<line x1="1202.6999999999998" y1="3079.37" x2="1202.6999999999998" y2="3099.489" stroke="#000" stroke-width="7"/>
<line x1="1194.6999999999998" y1="3079.37" x2="1210.6999999999998" y2="3079.37" stroke="#000" stroke-width="6" stroke-linecap="round"/>
<rect x="1167.6999999999998" y="3099.489" width="70.0" height="127.01099999999997" fill="#000000" stroke="#000" stroke-width="7" stroke-linejoin="round"/>
<line x1="1341.75" y1="3043.565" x2="1341.75" y2="3057.4" stroke="#000" stroke-width="7"/>
<line x1="1333.75" y1="3043.565" x2="1349.75" y2="3043.565" stroke="#000" stroke-width="6" stroke-linecap="round"/>
<rect x="1307.1" y="3057.4" width="69.29999999999995" height="169.0999999999999" fill="#ffffff" stroke="#000" stroke-width="7" stroke-linejoin="round"/>
<line x1="1410.0" y1="2902.05" x2="1410.0" y2="2944.675" stroke="#000" stroke-width="7"/>
<line x1="1402.0" y1="2902.05" x2="1418.0" y2="2902.05" stroke="#000" stroke-width="6" stroke-linecap="round"/>
<rect x="1376.3999999999999" y="2944.675" width="67.20000000000005" height="281.8249999999998" fill="#808080" stroke="#000" stroke-width="7" stroke-linejoin="round"/>
<line x1="1478.6" y1="2939.56" x2="1478.6" y2="2963.43" stroke="#000" stroke-width="7"/>
<line x1="1470.6" y1="2939.56" x2="1486.6" y2="2939.56" stroke="#000" stroke-width="6" stroke-linecap="round"/>
<rect x="1443.6" y="2963.43" width="70.0" height="263.07000000000016" fill="#000000" stroke="#000" stroke-width="7" stroke-linejoin="round"/>
<line x1="1617.65" y1="3036.745" x2="1617.65" y2="3057.4" stroke="#000" stroke-width="7"/>
<line x1="1609.65" y1="3036.745" x2="1625.65" y2="3036.745" stroke="#000" stroke-width="6" stroke-linecap="round"/>
<rect x="1583.0" y="3057.4" width="69.29999999999995" height="169.0999999999999" fill="#ffffff" stroke="#000" stroke-width="7" stroke-linejoin="round"/>
<line x1="1685.9" y1="2702.565" x2="1685.9" y2="2763.945" stroke="#000" stroke-width="7"/>
<line x1="1677.9" y1="2702.565" x2="1693.9" y2="2702.565" stroke="#000" stroke-width="6" stroke-linecap="round"/>
<rect x="1652.3" y="2763.945" width="67.20000000000005" height="462.55499999999984" fill="#808080" stroke="#000" stroke-width="7" stroke-linejoin="round"/>
<line x1="1754.5" y1="2617.315" x2="1754.5" y2="2670.17" stroke="#000" stroke-width="7"/>
<line x1="1746.5" y1="2617.315" x2="1762.5" y2="2617.315" stroke="#000" stroke-width="6" stroke-linecap="round"/>
<rect x="1719.5" y="2670.17" width="70.0" height="556.3299999999999" fill="#000000" stroke="#000" stroke-width="7" stroke-linejoin="round"/>
<line x1="1893.5500000000002" y1="3036.745" x2="1893.5500000000002" y2="3057.4" stroke="#000" stroke-width="7"/>
<line x1="1885.5500000000002" y1="3036.745" x2="1901.5500000000002" y2="3036.745" stroke="#000" stroke-width="6" stroke-linecap="round"/>
<rect x="1858.9" y="3057.4" width="69.29999999999995" height="169.0999999999999" fill="#ffffff" stroke="#000" stroke-width="7" stroke-linejoin="round"/>
<line x1="1961.8000000000002" y1="2931.035" x2="1961.8000000000002" y2="2963.43" stroke="#000" stroke-width="7"/>
<line x1="1953.8000000000002" y1="2931.035" x2="1969.8000000000002" y2="2931.035" stroke="#000" stroke-width="6" stroke-linecap="round"/>
<rect x="1928.2" y="2963.43" width="67.20000000000005" height="263.07000000000016" fill="#808080" stroke="#000" stroke-width="7" stroke-linejoin="round"/>
<line x1="2030.4" y1="2927.625" x2="2030.4" y2="2953.2" stroke="#000" stroke-width="7"/>
<line x1="2022.4" y1="2927.625" x2="2038.4" y2="2927.625" stroke="#000" stroke-width="6" stroke-linecap="round"/>
<rect x="1995.4" y="2953.2" width="70.0" height="273.3000000000002" fill="#000000" stroke="#000" stroke-width="7" stroke-linejoin="round"/>
<line x1="2169.45" y1="3046.975" x2="2169.45" y2="3057.4" stroke="#000" stroke-width="7"/>
<line x1="2161.45" y1="3046.975" x2="2177.45" y2="3046.975" stroke="#000" stroke-width="6" stroke-linecap="round"/>
<rect x="2134.7999999999997" y="3057.4" width="69.30000000000018" height="169.0999999999999" fill="#ffffff" stroke="#000" stroke-width="7" stroke-linejoin="round"/>
<line x1="2237.7" y1="2970.25" x2="2237.7" y2="2985.5950000000003" stroke="#000" stroke-width="7"/>
<line x1="2229.7" y1="2970.25" x2="2245.7" y2="2970.25" stroke="#000" stroke-width="6" stroke-linecap="round"/>
<rect x="2204.1" y="2985.5950000000003" width="67.19999999999982" height="240.90499999999975" fill="#808080" stroke="#000" stroke-width="7" stroke-linejoin="round"/>
<line x1="2306.2999999999997" y1="2948.085" x2="2306.2999999999997" y2="2958.315" stroke="#000" stroke-width="7"/>
<line x1="2298.2999999999997" y1="2948.085" x2="2314.2999999999997" y2="2948.085" stroke="#000" stroke-width="6" stroke-linecap="round"/>
<rect x="2271.2999999999997" y="2958.315" width="70.0" height="268.18499999999995" fill="#000000" stroke="#000" stroke-width="7" stroke-linejoin="round"/>
<text textLength="53.3" lengthAdjust="spacingAndGlyphs" transform="translate(582.4,2877.6) scale(0.88,1)" x="0" y="0" font-family="DejaVu Sans" font-size="102" font-weight="bold" text-anchor="middle">*</text>
<text textLength="53.3" lengthAdjust="spacingAndGlyphs" transform="translate(651,2817.6) scale(0.88,1)" x="0" y="0" font-family="DejaVu Sans" font-size="102" font-weight="bold" text-anchor="middle">*</text>
<text textLength="53.3" lengthAdjust="spacingAndGlyphs" transform="translate(1137,3109.2) scale(0.88,1)" x="0" y="0" font-family="DejaVu Sans" font-size="102" font-weight="bold" text-anchor="middle">*</text>
<text textLength="53.3" lengthAdjust="spacingAndGlyphs" transform="translate(1405.5,2899.6) scale(0.88,1)" x="0" y="0" font-family="DejaVu Sans" font-size="102" font-weight="bold" text-anchor="middle">*</text>
<text textLength="53.3" lengthAdjust="spacingAndGlyphs" transform="translate(1476.4,2935.0) scale(0.88,1)" x="0" y="0" font-family="DejaVu Sans" font-size="102" font-weight="bold" text-anchor="middle">*</text>
<text textLength="53.3" lengthAdjust="spacingAndGlyphs" transform="translate(1686,2707.2999999999997) scale(0.88,1)" x="0" y="0" font-family="DejaVu Sans" font-size="102" font-weight="bold" text-anchor="middle">*</text>
<text textLength="53.3" lengthAdjust="spacingAndGlyphs" transform="translate(1754.8,2611.1) scale(0.88,1)" x="0" y="0" font-family="DejaVu Sans" font-size="102" font-weight="bold" text-anchor="middle">*</text>
<text textLength="53.3" lengthAdjust="spacingAndGlyphs" transform="translate(1959,2934.6) scale(0.88,1)" x="0" y="0" font-family="DejaVu Sans" font-size="102" font-weight="bold" text-anchor="middle">*</text>
<text textLength="53.3" lengthAdjust="spacingAndGlyphs" transform="translate(2028,2909.6) scale(0.88,1)" x="0" y="0" font-family="DejaVu Sans" font-size="102" font-weight="bold" text-anchor="middle">*</text>
<text textLength="53.3" lengthAdjust="spacingAndGlyphs" transform="translate(2233.7,2973.6) scale(0.88,1)" x="0" y="0" font-family="DejaVu Sans" font-size="102" font-weight="bold" text-anchor="middle">*</text>
<text textLength="53.3" lengthAdjust="spacingAndGlyphs" transform="translate(2306.6,2940.1) scale(0.88,1)" x="0" y="0" font-family="DejaVu Sans" font-size="102" font-weight="bold" text-anchor="middle">*</text>
<text textLength="97.3" lengthAdjust="spacingAndGlyphs" x="1288.5" y="2624" font-size="96" font-weight="bold" text-anchor="middle">17</text>
<text textLength="481.1" lengthAdjust="spacingAndGlyphs" transform="translate(250,2898.5) rotate(-90)" font-size="64" font-weight="normal" text-anchor="middle" stroke="#000" stroke-width="0.7">Protein expression</text>
<text textLength="638.1" lengthAdjust="spacingAndGlyphs" transform="translate(324,2898.5) rotate(-90)" font-size="64" font-weight="normal" text-anchor="middle" stroke="#000" stroke-width="0.7">( Relative fold to β-actin)</text>
<line x1="444.2" y1="3338.6" x2="444.2" y2="4023.4" stroke="#000" stroke-width="7" stroke-linecap="round"/>
<line x1="427" y1="4023.4" x2="444.2" y2="4023.4" stroke="#000" stroke-width="6.5" stroke-linecap="round"/>
<text textLength="32.4" lengthAdjust="spacingAndGlyphs" x="382" y="4042.4" font-size="64" font-weight="normal" text-anchor="end" stroke="#000" stroke-width="0.7">0</text>
<line x1="427" y1="3797.7" x2="444.2" y2="3797.7" stroke="#000" stroke-width="6.5" stroke-linecap="round"/>
<text textLength="32.4" lengthAdjust="spacingAndGlyphs" x="382" y="3816.7" font-size="64" font-weight="normal" text-anchor="end" stroke="#000" stroke-width="0.7">1</text>
<line x1="427" y1="3568.5" x2="444.2" y2="3568.5" stroke="#000" stroke-width="6.5" stroke-linecap="round"/>
<text textLength="32.4" lengthAdjust="spacingAndGlyphs" x="382" y="3587.5" font-size="64" font-weight="normal" text-anchor="end" stroke="#000" stroke-width="0.7">2</text>
<line x1="427" y1="3338.6" x2="444.2" y2="3338.6" stroke="#000" stroke-width="6.5" stroke-linecap="round"/>
<text textLength="32.4" lengthAdjust="spacingAndGlyphs" x="382" y="3357.6" font-size="64" font-weight="normal" text-anchor="end" stroke="#000" stroke-width="0.7">3</text>
<line x1="444.2" y1="4023.4" x2="2376" y2="4023.4" stroke="#000" stroke-width="7" stroke-linecap="round"/>
<line x1="514.05" y1="3761.2835" x2="514.05" y2="3797.7" stroke="#000" stroke-width="7"/>
<line x1="506.04999999999995" y1="3761.2835" x2="522.05" y2="3761.2835" stroke="#000" stroke-width="6" stroke-linecap="round"/>
<rect x="479.4" y="3797.7" width="69.29999999999995" height="225.70000000000027" fill="#ffffff" stroke="#000" stroke-width="7" stroke-linejoin="round"/>
<line x1="582.3" y1="3603.032" x2="582.3" y2="3657.68" stroke="#000" stroke-width="7"/>
<line x1="574.3" y1="3603.032" x2="590.3" y2="3603.032" stroke="#000" stroke-width="6" stroke-linecap="round"/>
<rect x="548.6999999999999" y="3657.68" width="67.20000000000005" height="365.72000000000025" fill="#808080" stroke="#000" stroke-width="7" stroke-linejoin="round"/>
<line x1="650.9" y1="3678.173" x2="650.9" y2="3753.314" stroke="#000" stroke-width="7"/>
<line x1="642.9" y1="3678.173" x2="658.9" y2="3678.173" stroke="#000" stroke-width="6" stroke-linecap="round"/>
<rect x="615.9" y="3753.314" width="70.0" height="270.08600000000024" fill="#000000" stroke="#000" stroke-width="7" stroke-linejoin="round"/>
<line x1="789.9499999999999" y1="3755.591" x2="789.9499999999999" y2="3797.7" stroke="#000" stroke-width="7"/>
<line x1="781.9499999999999" y1="3755.591" x2="797.9499999999999" y2="3755.591" stroke="#000" stroke-width="6" stroke-linecap="round"/>
<rect x="755.3" y="3797.7" width="69.29999999999995" height="225.70000000000027" fill="#ffffff" stroke="#000" stroke-width="7" stroke-linejoin="round"/>
<line x1="858.1999999999999" y1="3689.558" x2="858.1999999999999" y2="3705.497" stroke="#000" stroke-width="7"/>
<line x1="850.1999999999999" y1="3689.558" x2="866.1999999999999" y2="3689.558" stroke="#000" stroke-width="6" stroke-linecap="round"/>
<rect x="824.5999999999999" y="3705.497" width="67.20000000000005" height="317.90300000000025" fill="#808080" stroke="#000" stroke-width="7" stroke-linejoin="round"/>
<line x1="926.8" y1="3680.45" x2="926.8" y2="3689.558" stroke="#000" stroke-width="7"/>
<line x1="918.8" y1="3680.45" x2="934.8" y2="3680.45" stroke="#000" stroke-width="6" stroke-linecap="round"/>
<rect x="891.8" y="3689.558" width="70.0" height="333.8420000000001" fill="#000000" stroke="#000" stroke-width="7" stroke-linejoin="round"/>
<rect x="1031.1999999999998" y="3797.7" width="69.29999999999995" height="225.70000000000027" fill="#ffffff" stroke="#000" stroke-width="7" stroke-linejoin="round"/>
<line x1="1134.1" y1="3908.15" x2="1134.1" y2="3925.2275" stroke="#000" stroke-width="7"/>
<line x1="1126.1" y1="3908.15" x2="1142.1" y2="3908.15" stroke="#000" stroke-width="6" stroke-linecap="round"/>
<rect x="1100.4999999999998" y="3925.2275" width="67.20000000000005" height="98.17250000000013" fill="#808080" stroke="#000" stroke-width="7" stroke-linejoin="round"/>
<line x1="1202.6999999999998" y1="3827.3165" x2="1202.6999999999998" y2="3842.117" stroke="#000" stroke-width="7"/>
<line x1="1194.6999999999998" y1="3827.3165" x2="1210.6999999999998" y2="3827.3165" stroke="#000" stroke-width="6" stroke-linecap="round"/>
<rect x="1167.6999999999998" y="3842.117" width="70.0" height="181.2829999999999" fill="#000000" stroke="#000" stroke-width="7" stroke-linejoin="round"/>
<line x1="1341.75" y1="3776.084" x2="1341.75" y2="3797.7" stroke="#000" stroke-width="7"/>
<line x1="1333.75" y1="3776.084" x2="1349.75" y2="3776.084" stroke="#000" stroke-width="6" stroke-linecap="round"/>
<rect x="1307.1" y="3797.7" width="69.29999999999995" height="225.70000000000027" fill="#ffffff" stroke="#000" stroke-width="7" stroke-linejoin="round"/>
<rect x="1376.3999999999999" y="3798.854" width="67.20000000000005" height="224.54600000000028" fill="#808080" stroke="#000" stroke-width="7" stroke-linejoin="round"/>
<rect x="1443.6" y="3748.76" width="70.0" height="274.6399999999999" fill="#000000" stroke="#000" stroke-width="7" stroke-linejoin="round"/>
<line x1="1617.65" y1="3769.253" x2="1617.65" y2="3797.7" stroke="#000" stroke-width="7"/>
<line x1="1609.65" y1="3769.253" x2="1625.65" y2="3769.253" stroke="#000" stroke-width="6" stroke-linecap="round"/>
<rect x="1583.0" y="3797.7" width="69.29999999999995" height="225.70000000000027" fill="#ffffff" stroke="#000" stroke-width="7" stroke-linejoin="round"/>
<line x1="1685.9" y1="3691.835" x2="1685.9" y2="3694.112" stroke="#000" stroke-width="7"/>
<line x1="1677.9" y1="3691.835" x2="1693.9" y2="3691.835" stroke="#000" stroke-width="6" stroke-linecap="round"/>
<rect x="1652.3" y="3694.112" width="67.20000000000005" height="329.288" fill="#808080" stroke="#000" stroke-width="7" stroke-linejoin="round"/>
<line x1="1754.5" y1="3500.567" x2="1754.5" y2="3509.675" stroke="#000" stroke-width="7"/>
<line x1="1746.5" y1="3500.567" x2="1762.5" y2="3500.567" stroke="#000" stroke-width="6" stroke-linecap="round"/>
<rect x="1719.5" y="3509.675" width="70.0" height="513.7249999999999" fill="#000000" stroke="#000" stroke-width="7" stroke-linejoin="round"/>
<line x1="1893.5500000000002" y1="3769.253" x2="1893.5500000000002" y2="3797.7" stroke="#000" stroke-width="7"/>
<line x1="1885.5500000000002" y1="3769.253" x2="1901.5500000000002" y2="3769.253" stroke="#000" stroke-width="6" stroke-linecap="round"/>
<rect x="1858.9" y="3797.7" width="69.29999999999995" height="225.70000000000027" fill="#ffffff" stroke="#000" stroke-width="7" stroke-linejoin="round"/>
<line x1="1961.8000000000002" y1="3778.361" x2="1961.8000000000002" y2="3851.9081" stroke="#000" stroke-width="7"/>
<line x1="1953.8000000000002" y1="3778.361" x2="1969.8000000000002" y2="3778.361" stroke="#000" stroke-width="6" stroke-linecap="round"/>
<rect x="1928.2" y="3851.9081" width="67.20000000000005" height="171.4919" fill="#808080" stroke="#000" stroke-width="7" stroke-linejoin="round"/>
<line x1="2030.4" y1="3719.159" x2="2030.4" y2="3744.206" stroke="#000" stroke-width="7"/>
<line x1="2022.4" y1="3719.159" x2="2038.4" y2="3719.159" stroke="#000" stroke-width="6" stroke-linecap="round"/>
<rect x="1995.4" y="3744.206" width="70.0" height="279.19399999999996" fill="#000000" stroke="#000" stroke-width="7" stroke-linejoin="round"/>
<line x1="2169.45" y1="3785.192" x2="2169.45" y2="3797.7" stroke="#000" stroke-width="7"/>
<line x1="2161.45" y1="3785.192" x2="2177.45" y2="3785.192" stroke="#000" stroke-width="6" stroke-linecap="round"/>
<rect x="2134.7999999999997" y="3797.7" width="69.30000000000018" height="225.70000000000027" fill="#ffffff" stroke="#000" stroke-width="7" stroke-linejoin="round"/>
<line x1="2237.7" y1="3712.328" x2="2237.7" y2="3737.375" stroke="#000" stroke-width="7"/>
<line x1="2229.7" y1="3712.328" x2="2245.7" y2="3712.328" stroke="#000" stroke-width="6" stroke-linecap="round"/>
<rect x="2204.1" y="3737.375" width="67.19999999999982" height="286.0250000000001" fill="#808080" stroke="#000" stroke-width="7" stroke-linejoin="round"/>
<line x1="2306.2999999999997" y1="3596.201" x2="2306.2999999999997" y2="3657.68" stroke="#000" stroke-width="7"/>
<line x1="2298.2999999999997" y1="3596.201" x2="2314.2999999999997" y2="3596.201" stroke="#000" stroke-width="6" stroke-linecap="round"/>
<rect x="2271.2999999999997" y="3657.68" width="70.0" height="365.72000000000025" fill="#000000" stroke="#000" stroke-width="7" stroke-linejoin="round"/>
<text textLength="53.3" lengthAdjust="spacingAndGlyphs" transform="translate(582.4,3604.2) scale(0.88,1)" x="0" y="0" font-family="DejaVu Sans" font-size="102" font-weight="bold" text-anchor="middle">*</text>
<text textLength="53.3" lengthAdjust="spacingAndGlyphs" transform="translate(856.5,3694.6) scale(0.88,1)" x="0" y="0" font-family="DejaVu Sans" font-size="102" font-weight="bold" text-anchor="middle">*</text>
<text textLength="53.3" lengthAdjust="spacingAndGlyphs" transform="translate(927,3681.1) scale(0.88,1)" x="0" y="0" font-family="DejaVu Sans" font-size="102" font-weight="bold" text-anchor="middle">*</text>
<text textLength="53.3" lengthAdjust="spacingAndGlyphs" transform="translate(1134,3907.1) scale(0.88,1)" x="0" y="0" font-family="DejaVu Sans" font-size="102" font-weight="bold" text-anchor="middle">*</text>
<text textLength="53.3" lengthAdjust="spacingAndGlyphs" transform="translate(1689,3694.6) scale(0.88,1)" x="0" y="0" font-family="DejaVu Sans" font-size="102" font-weight="bold" text-anchor="middle">*</text>
<text textLength="53.3" lengthAdjust="spacingAndGlyphs" transform="translate(1754.8,3500.2) scale(0.88,1)" x="0" y="0" font-family="DejaVu Sans" font-size="102" font-weight="bold" text-anchor="middle">*</text>
<text textLength="53.3" lengthAdjust="spacingAndGlyphs" transform="translate(2306.6,3593.2999999999997) scale(0.88,1)" x="0" y="0" font-family="DejaVu Sans" font-size="102" font-weight="bold" text-anchor="middle">*</text>
<text textLength="97.3" lengthAdjust="spacingAndGlyphs" x="1288.5" y="3424" font-size="96" font-weight="bold" text-anchor="middle">18</text>
<text textLength="481.1" lengthAdjust="spacingAndGlyphs" transform="translate(250,3717) rotate(-90)" font-size="64" font-weight="normal" text-anchor="middle" stroke="#000" stroke-width="0.7">Protein expression</text>
<text textLength="638.1" lengthAdjust="spacingAndGlyphs" transform="translate(324,3717) rotate(-90)" font-size="64" font-weight="normal" text-anchor="middle" stroke="#000" stroke-width="0.7">( Relative fold to β-actin)</text>
<text textLength="126.7" lengthAdjust="spacingAndGlyphs" x="584.9" y="4123.5" font-size="58.5" font-weight="bold" text-anchor="middle" >PARP</text>
<text textLength="88.0" lengthAdjust="spacingAndGlyphs" x="860.8" y="4123.5" font-size="58.5" font-weight="bold" text-anchor="middle" >Bax</text>
<text textLength="119.2" lengthAdjust="spacingAndGlyphs" x="1136.6999999999998" y="4123.5" font-size="58.5" font-weight="bold" text-anchor="middle" >Bcl-2</text>
<text textLength="190.8" lengthAdjust="spacingAndGlyphs" x="1412.6" y="4123.5" font-size="58.5" font-weight="bold" text-anchor="middle" >Cleaved</text>
<text textLength="243.8" lengthAdjust="spacingAndGlyphs" x="1412.6" y="4197" font-size="58.5" font-weight="bold" text-anchor="middle" >Caspase-8</text>
<text textLength="190.8" lengthAdjust="spacingAndGlyphs" x="1688.5" y="4123.5" font-size="58.5" font-weight="bold" text-anchor="middle" >Cleaved</text>
<text textLength="243.8" lengthAdjust="spacingAndGlyphs" x="1688.5" y="4197" font-size="58.5" font-weight="bold" text-anchor="middle" >Caspase-9</text>
<text textLength="190.8" lengthAdjust="spacingAndGlyphs" x="1964.4" y="4123.5" font-size="58.5" font-weight="bold" text-anchor="middle" >Cleaved</text>
<text textLength="243.8" lengthAdjust="spacingAndGlyphs" x="1964.4" y="4197" font-size="58.5" font-weight="bold" text-anchor="middle" >Caspase-7</text>
<text textLength="190.8" lengthAdjust="spacingAndGlyphs" x="2240.2999999999997" y="4123.5" font-size="58.5" font-weight="bold" text-anchor="middle" >Cleaved</text>
<text textLength="243.8" lengthAdjust="spacingAndGlyphs" x="2240.2999999999997" y="4197" font-size="58.5" font-weight="bold" text-anchor="middle" >Caspase-3</text>
</svg></body></html>
